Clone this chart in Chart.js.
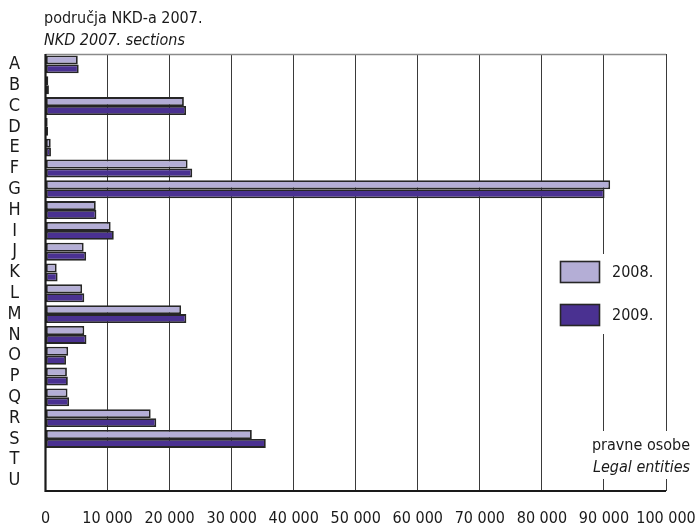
<!DOCTYPE html>
<html>
<head>
<meta charset="utf-8">
<script src="https://cdn.jsdelivr.net/npm/chart.js@4/dist/chart.umd.min.js"></script>
<style>
  html, body { margin: 0; padding: 0; background: #ffffff; }
  #wrap { width: 696px; height: 528px; position: relative; }
</style>
</head>
<body>
<div id="wrap"><canvas id="c" width="696" height="528"></canvas></div>
<script>
// NKD 2007 sections (A–U)
const sections = ['A','B','C','D','E','F','G','H','I','J','K','L','M','N','O','P','Q','R','S','T','U'];

// Number of legal entities per section
const entities2008 = [5200, 450, 22300, 350, 840, 22900, 91000, 8100, 10500, 6150, 1800, 5900, 21850, 6250, 3650, 3450, 3550, 16950, 33250, 15, 60];
const entities2009 = [5350, 550, 22650, 400, 880, 23650, 90100, 8200, 11000, 6550, 1950, 6250, 22700, 6600, 3300, 3600, 3800, 17850, 35500, 20, 80];

const seriesLabels = ['2008.', '2009.'];
const xTicks = [0, 10000, 20000, 30000, 40000, 50000, 60000, 70000, 80000, 90000, 100000];

const FONT = "'Liberation Sans Narrow', 'DejaVu Sans Condensed', sans-serif";
const LIGHT = '#b4aed6';
const DARK = '#4a3191';
const EDGE = '#262626';

function fmt(v) {
  return String(v).replace(/\B(?=(\d{3})+(?!\d))/g, ' ');
}

// Blank out gridline segments behind the legend and the unit note
const clearBoxes = {
  id: 'clearBoxes',
  beforeDatasetsDraw(chart) {
    const ctx = chart.ctx;
    ctx.save();
    ctx.fillStyle = '#ffffff';
    ctx.fillRect(552, 254, 100, 80);
    ctx.fillRect(590, 431, 100, 48);
    ctx.restore();
  }
};

// Titles, legend, unit note and frame lines
const decorations = {
  id: 'decorations',
  afterDraw(chart) {
    const ctx = chart.ctx;
    const a = chart.chartArea;
    ctx.save();

    // top frame line
    ctx.strokeStyle = '#8a8a8a';
    ctx.lineWidth = 1.5;
    ctx.beginPath();
    ctx.moveTo(a.left, a.top + 0.5);
    ctx.lineTo(a.right, a.top + 0.5);
    ctx.stroke();

    // axes
    ctx.strokeStyle = '#1a1a1a';
    ctx.lineWidth = 2.2;
    ctx.beginPath();
    ctx.moveTo(a.left, a.top);
    ctx.lineTo(a.left, a.bottom);
    ctx.lineTo(a.right, a.bottom);
    ctx.stroke();

    // heading
    ctx.fillStyle = '#1a1a1a';
    ctx.textBaseline = 'alphabetic';
    ctx.textAlign = 'left';
    ctx.font = '16px ' + FONT;
    ctx.fillText('područja NKD-a 2007.', 44, 23);
    ctx.font = 'italic 16px ' + FONT;
    ctx.fillText('NKD 2007. sections', 44, 45);

    // legend
    const items = [
      { label: seriesLabels[0], color: LIGHT, y: 261 },
      { label: seriesLabels[1], color: DARK, y: 304 }
    ];
    items.forEach(it => {
      ctx.fillStyle = it.color;
      ctx.fillRect(560, it.y, 40, 22);
      ctx.strokeStyle = EDGE;
      ctx.lineWidth = 1.6;
      ctx.strokeRect(560.5, it.y + 0.5, 39, 21);
      ctx.fillStyle = '#1a1a1a';
      ctx.font = '16px ' + FONT;
      ctx.textBaseline = 'middle';
      ctx.fillText(it.label, 612, it.y + 12);
    });

    // unit note
    ctx.textAlign = 'right';
    ctx.textBaseline = 'alphabetic';
    ctx.font = '16px ' + FONT;
    ctx.fillText('pravne osobe', 690, 450);
    ctx.font = 'italic 16px ' + FONT;
    ctx.fillText('Legal entities', 690, 472);

    ctx.restore();
  }
};

new Chart(document.getElementById('c'), {
  type: 'bar',
  data: {
    labels: sections,
    datasets: [
      {
        label: seriesLabels[0],
        data: entities2008,
        backgroundColor: LIGHT,
        borderColor: EDGE,
        borderWidth: 1.8,
        borderSkipped: false
      },
      {
        label: seriesLabels[1],
        data: entities2009,
        backgroundColor: DARK,
        borderColor: EDGE,
        borderWidth: 1.8,
        borderSkipped: false
      }
    ]
  },
  options: {
    indexAxis: 'y',
    responsive: false,
    animation: false,
    devicePixelRatio: 1,
    layout: { padding: { top: 54, right: 30, left: 0, bottom: 0 } },
    datasets: {
      bar: { categoryPercentage: 0.86, barPercentage: 1.0 }
    },
    plugins: {
      legend: { display: false },
      tooltip: { enabled: false }
    },
    scales: {
      x: {
        min: 0,
        max: 100000,
        afterBuildTicks(scale) {
          scale.ticks = xTicks.map(v => ({ value: v }));
        },
        afterFit(scale) {
          scale.height = 37;
          scale.paddingLeft = 0;
          scale.paddingRight = 0;
        },
        grid: {
          color: '#3a3a3a',
          lineWidth: 1,
          drawTicks: false
        },
        border: { display: false },
        ticks: {
          autoSkip: false,
          padding: 18,
          color: '#1a1a1a',
          font: { family: FONT, size: 16 },
          maxRotation: 0,
          callback: v => fmt(v)
        }
      },
      y: {
        afterFit(scale) {
          scale.width = 45.5;
          scale.paddingTop = 0;
          scale.paddingBottom = 0;
        },
        grid: { display: false, drawTicks: false },
        border: { display: false },
        ticks: {
          autoSkip: false,
          crossAlign: 'center',
          padding: 24,
          color: '#1a1a1a',
          font: { family: FONT, size: 18 }
        }
      }
    }
  },
  plugins: [clearBoxes, decorations]
});
</script>
</body>
</html>
